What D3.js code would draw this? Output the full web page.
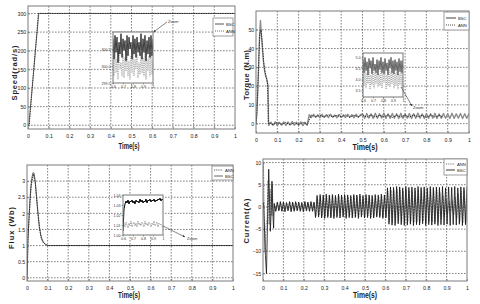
<!DOCTYPE html>
<html><head><meta charset="utf-8">
<script src="https://cdn.jsdelivr.net/npm/d3@7"></script>
<style>body{margin:0;background:#fff}svg{display:block}</style>
</head><body>
<svg id="c" width="480" height="304"></svg>
<script>
// ---------------- DATA ----------------
const timeTicks = [0,0.1,0.2,0.3,0.4,0.5,0.6,0.7,0.8,0.9,1];
const insetTicks = [0.6,0.7,0.8,0.9,1];

// Speed (rad/s)
const speedTicks = [0,50,100,150,200,250,300];
const speedBSCt = [0,0.004,0.052,1];
const speedBSC  = [0,0,300,300];
const speedANNt = [0,0.006,0.05,1];
const speedANN  = [0,0,300,300];
const speedInsetTicks = [299.5,300,300.5];
const speedInsetBSC = [300.8,300.2,300.9,300.4,300.85,300.1,300.7,300.35,300.95,300.25,300.8,300.45,300.75,300.15,300.9,300.3,300.85,300.5,300.7,300.2,300.9,300.35,300.8,300.25,300.85,300.4,300.7,300.3,300.95,300.2,300.8,300.4,300.9,300.15,300.75,300.35,300.85,300.25,300.9,300.3,300.8];
const speedInsetANN = [300.3,299.7,300.45,299.8,300.2,299.6,300.5,299.9,300.1,299.7,300.35,299.65,300.25,299.85,300.4,299.7,300.15,299.6,300.3,299.8,300.45,299.7,300.2,299.9,300.35,299.65,300.1,299.75,300.4,299.8,300.25,299.7,300.45,299.6,300.2,299.85,300.3,299.7,300.4,299.75,300.2];

// Torque (N.m)
const torqueTicks = [0,10,20,30,40,50];
const torqueBSCstartT = [0,0.004,0.01,0.016,0.021,0.025,0.03,0.034,0.038,0.042,0.046,0.05,0.054,0.057,0.059];
const torqueBSCstart  = [0,5,22,45,55,48,40,34,30,27,25,24,22,20,0];
const torqueBSCnoise = [-1,0.8,-0.9,1,-1.1,0.7,-0.8,1,-1,0.9,-0.7,1.1,-0.9,0.8,-1,0.9,-1.1,0.8,-0.9,
  4.8,3.2,5,3.4,4.7,3.1,4.9,3.3,4.8,3.2,5,3.4,4.6,3.1,4.9,3.3,4.7,3.2,5,3.4,4.8,3.1,4.9,3.3,4.7,
  5.3,2.8,5.4,2.9,5.2,2.7,5.5,2.8,5.3,2.9,5.6,2.7,5.2,2.8,5.4,2.9,5.3,2.7,5.5,2.8,5.2,2.9,5.4,2.7,5.3,2.8,5.6,2.9,5.2,2.7,5.4,2.8,5.3,2.9,5.5,2.7,5.2,2.8,5.4,2.9,5.3,2.7,5.5,2.8,5.2,2.9,5.4,2.7,5.3,2.8,5.4];
const torqueANNstartT = [0,0.005,0.012,0.018,0.024,0.03,0.036,0.042,0.048,0.054,0.058];
const torqueANNstart  = [0,8,30,48,50,42,33,28,25,21,0];
const torqueANNnoise = [0.5,-0.6,0.7,-0.5,0.6,-0.7,0.5,-0.6,0.7,-0.5,
  4.6,3.5,4.5,3.4,4.7,3.6,4.4,3.5,4.6,3.3,4.5,3.6,4.7,3.4,4.6,3.5,4.4,3.6,4.7,3.3,4.5,3.5,4.6,3.4,4.7,3.6,4.5,3.3,4.6,3.5,4.4,3.4];
const torqueInsetTicks = [3.5,4,4.5,5];
const torqueInsetBSC = [4.9,4.3,5.0,4.4,4.8,4.2,4.95,4.5,4.85,4.25,5.0,4.4,4.7,4.3,4.9,4.2,4.85,4.45,5.0,4.3,4.8,4.25,4.95,4.4,4.75,4.2,4.9,4.5,5.0,4.3,4.85,4.25,4.9,4.4,4.8,4.2,4.95,4.35,4.85,4.3,4.9];
const torqueInsetANN = [4.4,3.7,4.5,3.6,4.3,3.8,4.45,3.55,4.2,3.75,4.5,3.6,4.35,3.8,4.4,3.65,4.25,3.7,4.5,3.6,4.3,3.85,4.4,3.55,4.2,3.7,4.45,3.65,4.35,3.8,4.5,3.6,4.3,3.7,4.4,3.55,4.25,3.75,4.45,3.6,4.3];

// Flux (Wb)
const fluxTicks = [0,0.5,1,1.5,2,2.5,3];
const fluxBSCt = [0,0.002,0.005,0.01,0.015,0.02,0.025,0.03,0.034,0.038,0.042,0.046,0.05,0.055,0.06,0.065,0.07,0.08,0.09,0.1,1.0];
const fluxBSC  = [0,0.3,1.2,1.9,2.5,2.9,3.15,3.27,3.25,3.1,2.85,2.55,2.25,1.9,1.6,1.4,1.25,1.1,1.03,1.0,1.0];
const fluxANNt = [0,0.004,0.01,0.02,0.031,0.04,0.05,0.06,0.07,0.08,0.1,1];
const fluxANN  = [0,1.1,1.85,2.85,3.22,2.95,2.2,1.55,1.2,1.08,1.0,1.0];
const fluxInsetTicks = [1,1.01,1.02,1.03,1.04];
const fluxInsetBSC = [1.004,1.026,1.031,1.034,1.032,1.035,1.031,1.034,1.033,1.035,1.032,1.034,1.031,1.035,1.033,1.034,1.032,1.036,1.033,1.035,1.032,1.034,1.033,1.036,1.032,1.035,1.034,1.036,1.033,1.035,1.034,1.036,1.033,1.035,1.034,1.036,1.035,1.037,1.034,1.036,1.035];
const fluxInsetANN = [1.009,1.012,1.008,1.013,1.010,1.007,1.012,1.009,1.014,1.008,1.011,1.013,1.009,1.012,1.008,1.014,1.010,1.012,1.009,1.013,1.011,1.008,1.014,1.010,1.012,1.009,1.013,1.011,1.008,1.012,1.010,1.014,1.009,1.011,1.013,1.008,1.012,1.010,1.011,1.009,1.007];

// Current (A)
const currentTicks = [-15,-10,-5,0,5,10];
const currentBSCstartT = [0,0.003,0.008,0.012,0.017,0.022,0.028,0.032,0.036,0.04,0.044,0.048,0.052];
const currentBSCstart  = [0,1,-6,-11,-15,-4,8.5,2,-5.5,-1,5.8,-1,-4.8];
const currentBSCosc = [0.8,-1.0,1.1,-0.9,1.2,-1.0,1.1,-1.1,1.0,-0.9,1.2,-1.1,1.1,-1.0,1.2,-0.9,1.1,-1.0,1.0,-1.1,1.2,-0.9,1.1,-1.0,1.2,-1.0,1.1,
  -2.4,2.6,-2.3,2.8,-2.5,2.7,-2.6,2.9,-2.4,2.7,-2.5,2.8,-2.6,2.6,-2.4,2.9,-2.5,2.7,-2.3,2.8,-2.6,2.7,-2.4,2.6,-2.5,2.8,-2.4,2.7,-2.6,2.9,-2.3,2.6,-2.5,2.8,-2.4,2.7,-2.6,2.6,-2.5,2.8,-2.3,2.7,-2.4,2.9,-2.6,2.7,-2.5,
  4.3,-3.9,4.5,-4.1,4.4,-4.2,4.6,-3.8,4.5,-4.0,4.3,-4.2,4.6,-4.1,4.4,-3.9,4.5,-4.2,4.3,-4.0,4.6,-4.1,4.4,-3.8,4.5,-4.2,4.3,-4.0,4.6,-4.1,4.4,-3.9,4.5,-4.2,4.4,-4.0,4.6,-4.1,4.3,-3.9,4.5,-4.2,4.4,-4.0,4.6,-4.1,4.3,-3.9,4.5,-4.2,4.4,-4.0,4.5];
const currentANNstartT = [0,0.002,0.006,0.01,0.015,0.02,0.025,0.03,0.035,0.04,0.045,0.05];
const currentANNstart  = [0,10,-2,-10,-4,-3,6,-4,4,-2,5,-2];
const currentANNosc = [0.6,-0.8,0.9,-0.7,1.0,-0.8,0.9,-0.9,0.8,-0.7,1.0,-0.9,0.9,-0.8,1.0,-0.7,0.9,-0.8,0.8,-0.9,1.0,-0.7,0.9,-0.8,1.0,-0.8,0.9,
  -2.0,2.2,-1.9,2.4,-2.1,2.3,-2.2,2.5,-2.0,2.3,-2.1,2.4,-2.2,2.2,-2.0,2.5,-2.1,2.3,-1.9,2.4,-2.2,2.3,-2.0,2.2,-2.1,2.4,-2.0,2.3,-2.2,2.5,-1.9,2.2,-2.1,2.4,-2.0,2.3,-2.2,2.2,-2.1,2.4,-1.9,2.3,-2.0,2.5,-2.2,2.3,-2.1,
  3.6,-3.3,3.8,-3.5,3.7,-3.6,3.9,-3.2,3.8,-3.4,3.6,-3.5,3.9,-3.4,3.7,-3.3,3.8,-3.5,3.6,-3.4,3.9,-3.5,3.7,-3.2,3.8,-3.5,3.6,-3.3,3.9,-3.4,3.7,-3.3,3.8,-3.5,3.2,-2.8,2.6,-2.2,1.8,-1.5,1.2,-1.0,1.4,-1.8,2.2,-2.6,3.0,-3.3,3.5,-3.6,3.7,-3.4,3.6];

// ---------------- DRAWING ----------------
const svg = d3.select("#c");
const NARROW = "'Liberation Sans Narrow','Liberation Sans',Arial,sans-serif";
const SANS = "'Liberation Sans',Arial,sans-serif";
const defs = svg.append("defs");
defs.append("marker").attr("id","arr").attr("viewBox","0 0 6 6").attr("refX",6).attr("refY",3)
  .attr("markerWidth",4).attr("markerHeight",4).attr("orient","auto")
  .append("path").attr("d","M0,0L6,3L0,6Z").attr("fill","#333");

function sampled(t0, step, vals) { return vals.map((v,i) => [t0 + i*step, v]); }
const pairs = (ts, vs) => d3.zip(ts, vs);

let clipN = 0;
function panel(o) {
  const g = svg.append("g");
  const x = d3.scaleLinear().domain([0,1]).range([o.l, o.r]);
  const y = d3.scaleLinear().domain(o.yd).range([o.b, o.t]);
  const cid = "clip" + (clipN++);
  defs.append("clipPath").attr("id", cid).append("rect")
    .attr("x", o.l).attr("y", o.t).attr("width", o.r - o.l).attr("height", o.b - o.t);
  g.append("g").selectAll("line").data(timeTicks.slice(1,-1)).join("line")
    .attr("x1", d => x(d)).attr("x2", d => x(d)).attr("y1", o.t).attr("y2", o.b)
    .attr("stroke", "#333").attr("stroke-width", 0.6).attr("stroke-dasharray", "1.6,1.4");
  g.append("g").selectAll("line").data(o.yt).join("line")
    .attr("x1", o.l).attr("x2", o.r).attr("y1", d => y(d)).attr("y2", d => y(d))
    .attr("stroke", "#333").attr("stroke-width", 0.6).attr("stroke-dasharray", "1.6,1.4");
  const ax = g.append("g").attr("transform", `translate(0,${o.b})`)
    .call(d3.axisBottom(x).tickValues(timeTicks).tickSize(2).tickPadding(3)
      .tickFormat(d => d === 0 ? "0" : d === 1 ? "1" : d3.format(".1f")(d)));
  const ay = g.append("g").attr("transform", `translate(${o.l},0)`)
    .call(d3.axisLeft(y).tickValues(o.yt).tickSize(1).tickPadding(0.8).tickFormat(o.yf || d3.format("d")));
  [ax, ay].forEach(a => {
    a.select(".domain").remove();
    a.selectAll("line").attr("stroke", "#555").attr("stroke-width", 0.6);
    a.selectAll("text").attr("font-family", NARROW).attr("font-size", 5.2).attr("fill", "#222");
  });
  ax.selectAll(".tick line").attr("y2", -2);
  ay.selectAll(".tick line").attr("x2", 2);
  const line = d3.line().x(d => x(d[0])).y(d => y(d[1]));
  const sg = g.append("g").attr("clip-path", `url(#${cid})`);
  o.series.forEach(s => {
    sg.append("path").attr("d", line(s.data)).attr("fill", "none")
      .attr("stroke", s.color).attr("stroke-width", s.w)
      .attr("stroke-dasharray", s.dash || null).attr("stroke-linejoin", "round");
  });
  g.append("rect").attr("x", o.l).attr("y", o.t).attr("width", o.r - o.l).attr("height", o.b - o.t)
    .attr("fill", "none").attr("stroke", "#7a7a7a").attr("stroke-width", 1);
  g.append("text").attr("x", o.xtx).attr("y", o.xty).attr("text-anchor", "middle")
    .attr("font-family", SANS).attr("font-weight", "bold").attr("font-size", 9)
    .attr("textLength", o.xtl).attr("lengthAdjust", "spacingAndGlyphs").attr("fill", "#222").text("Time(s)");
  g.append("text").attr("transform", `translate(${o.ytx},${o.yty}) rotate(-90)`).attr("text-anchor", "middle")
    .attr("font-family", SANS).attr("font-weight", "bold").attr("font-size", 7.5)
    .attr("textLength", o.ytl).attr("lengthAdjust", "spacing").attr("fill", "#222").text(o.ylabel);
  const L = o.legend;
  g.append("rect").attr("x", L.x).attr("y", L.y).attr("width", L.w).attr("height", L.h)
    .attr("fill", "#fff").attr("stroke", "#888").attr("stroke-width", 0.8);
  L.items.forEach((it, i) => {
    const yy = L.y + L.dy0 + i * L.dy;
    g.append("line").attr("x1", L.x + 2).attr("x2", L.x + 2 + L.ll).attr("y1", yy).attr("y2", yy)
      .attr("stroke", it.color).attr("stroke-width", it.w).attr("stroke-dasharray", it.dash || null);
    g.append("text").attr("x", L.x + 4 + L.ll).attr("y", yy + 1.5).attr("font-family", NARROW)
      .attr("font-size", 4.2).attr("fill", "#222").text(it.name);
  });
  return {x, y, g};
}

function inset(o) {
  const g = svg.append("g");
  const x = d3.scaleLinear().domain([0.6, 1]).range([o.l, o.r]);
  const y = d3.scaleLinear().domain(o.yd).range([o.b, o.t]);
  const cid = "clip" + (clipN++);
  defs.append("clipPath").attr("id", cid).append("rect")
    .attr("x", o.l).attr("y", o.t).attr("width", o.r - o.l).attr("height", o.b - o.t);
  g.append("rect").attr("x", o.l).attr("y", o.t).attr("width", o.r - o.l).attr("height", o.b - o.t)
    .attr("fill", "#fff");
  const line = d3.line().x(d => x(d[0])).y(d => y(d[1]));
  const sg = g.append("g").attr("clip-path", `url(#${cid})`);
  o.series.forEach(s => {
    sg.append("path").attr("d", line(s.data)).attr("fill", "none")
      .attr("stroke", s.color).attr("stroke-width", s.w).attr("stroke-dasharray", s.dash || null);
  });
  g.append("rect").attr("x", o.l).attr("y", o.t).attr("width", o.r - o.l).attr("height", o.b - o.t)
    .attr("fill", "none").attr("stroke", "#777").attr("stroke-width", 1);
  const ax = g.append("g").attr("transform", `translate(0,${o.b})`)
    .call(d3.axisBottom(x).tickValues(insetTicks).tickSize(1.5).tickPadding(1)
      .tickFormat(d => d === 1 ? "1" : d3.format(".1f")(d)));
  const ay = g.append("g").attr("transform", `translate(${o.l},0)`)
    .call(d3.axisLeft(y).tickValues(o.yt).tickSize(1.5).tickPadding(1).tickFormat(o.yf));
  [ax, ay].forEach(a => {
    a.select(".domain").remove();
    a.selectAll("line").attr("stroke", "#555").attr("stroke-width", 0.5);
    a.selectAll("text").attr("font-family", NARROW).attr("font-size", 3.6).attr("fill", "#333");
  });
  svg.append("line").attr("x1", o.a.x1).attr("y1", o.a.y1).attr("x2", o.a.x2).attr("y2", o.a.y2)
    .attr("stroke", "#333").attr("stroke-width", 0.6).attr("marker-end", "url(#arr)");
  svg.append("text").attr("x", o.a.tx).attr("y", o.a.ty).attr("font-family", NARROW)
    .attr("font-size", 4).attr("fill", "#333").text("Zoom");
}

const insetT = vals => vals.map((v, i) => [0.6 + i * 0.01, v]);

// Panel A: Speed
panel({l:28, r:235, t:6, b:129, yd:[-10,320], yt:speedTicks,
  xtx:129, xty:149, xtl:21, ytx:17, yty:73, ytl:55, ylabel:"Speed(rad/s)",
  series:[
    {data:pairs(speedBSCt, speedBSC), color:"#6e6e6e", w:1},
    {data:pairs(speedANNt, speedANN), color:"#111", w:0.8, dash:"1.2,1.2"}
  ],
  legend:{x:213, y:18, w:20, h:18, dy0:6, dy:7, ll:9, items:[
    {name:"BSC", color:"#444", w:0.9},
    {name:"ANN", color:"#444", w:0.8, dash:"1,1"}]}
});
inset({l:113, r:153, t:32, b:83, yd:[299.5,301], yt:speedInsetTicks, yf:d3.format(".1f"),
  series:[
    {data:insetT(speedInsetANN), color:"#777", w:0.6, dash:"1,0.8"},
    {data:insetT(speedInsetBSC), color:"#111", w:0.8}
  ],
  a:{x1:167, y1:22, x2:153.5, y2:32, tx:168, ty:23}
});

// Panel B: Torque
panel({l:256, r:469, t:11, b:133, yd:[-5,60], yt:torqueTicks,
  xtx:365, xty:150, xtl:25, ytx:249, yty:75, ytl:50, ylabel:"Torque (N.m)",
  series:[
    {data:pairs(torqueBSCstartT, torqueBSCstart).concat(sampled(0.06, 0.01, torqueBSCnoise)), color:"#888", w:1.3},
    {data:pairs(torqueANNstartT, torqueANNstart).concat(sampled(0.06, 0.02, torqueANNnoise)), color:"#111", w:0.8, dash:"1.5,1"}
  ],
  legend:{x:444, y:12, w:25, h:18, dy0:6, dy:7, ll:10, items:[
    {name:"BSC", color:"#888", w:1.6},
    {name:"ANN", color:"#222", w:0.8, dash:"1,1"}]}
});
inset({l:363, r:403, t:53, b:97, yd:[3.2,5.2], yt:torqueInsetTicks, yf:d3.format(".1f"),
  series:[
    {data:insetT(torqueInsetBSC), color:"#555", w:0.9},
    {data:insetT(torqueInsetANN), color:"#666", w:0.6, dash:"1,1"}
  ],
  a:{x1:401, y1:87, x2:412, y2:106, tx:413, ty:109}
});

// Panel C: Flux
panel({l:27, r:233, t:165, b:281, yd:[-0.1,3.5], yt:fluxTicks, yf:d => d3.format("~g")(d),
  xtx:129, xty:298, xtl:22, ytx:13.5, yty:228, ytl:42, ylabel:"Flux (Wb)",
  series:[
    {data:pairs(fluxBSCt, fluxBSC), color:"#666", w:1},
    {data:pairs(fluxANNt, fluxANN), color:"#111", w:0.8, dash:"1.5,1"}
  ],
  legend:{x:212, y:166, w:21, h:14, dy0:4, dy:6, ll:9, items:[
    {name:"ANN", color:"#333", w:0.8, dash:"1.2,1"},
    {name:"BSC", color:"#555", w:0.9}]}
});
inset({l:123, r:163, t:195, b:235, yd:[1.0,1.04], yt:fluxInsetTicks, yf:d3.format(".2f"),
  series:[
    {data:insetT(fluxInsetBSC), color:"#000", w:1},
    {data:insetT(fluxInsetANN), color:"#555", w:0.6, dash:"1,0.8"}
  ],
  a:{x1:163, y1:226, x2:185, y2:237, tx:187, ty:239.5}
});

// Panel D: Current
panel({l:263, r:467, t:159, b:281, yd:[-16.7,10.8], yt:currentTicks,
  xtx:365, xty:298, xtl:24, ytx:249, yty:221, ytl:45, ylabel:"Current(A)",
  series:[
    {data:pairs(currentANNstartT, currentANNstart).concat(sampled(0.057, 0.0075, currentANNosc)), color:"#888", w:1, dash:"2,0.8"},
    {data:pairs(currentBSCstartT, currentBSCstart).concat(sampled(0.055, 0.0075, currentBSCosc)), color:"#111", w:0.8}
  ],
  legend:{x:444, y:159, w:23, h:16, dy0:5, dy:6, ll:9, items:[
    {name:"ANN", color:"#555", w:0.8, dash:"1.2,1"},
    {name:"BSC", color:"#222", w:0.9}]}
});
</script>
</body></html>
